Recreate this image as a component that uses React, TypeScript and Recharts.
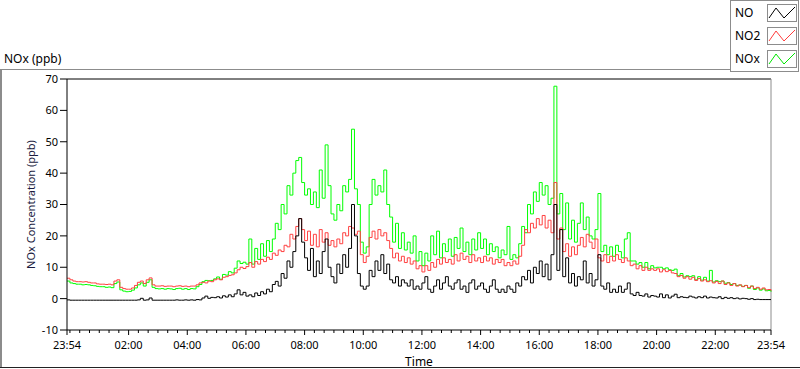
import { LineChart, Line, XAxis, YAxis, ReferenceLine, Label } from "recharts"

// one sample every 6 minutes, starting 23:54 the day before
const SAMPLE_MINUTES = 6

const NO = [
  -0.4, -0.5, -0.5, -0.5, -0.5, -0.5, -0.5, -0.5, -0.5, -0.5,
  -0.5, -0.5, -0.5, -0.5, -0.5, -0.5, -0.5, -0.5, -0.5, -0.5,
  -0.5, -0.5, -0.5, -0.5, -0.4, 0.1, -0.5, -0.4, 0.2, -0.5,
  -0.5, -0.5, -0.5, -0.5, -0.5, -0.5, -0.5, -0.4, -0.5, -0.5,
  -0.4, -0.5, -0.4, -0.5, -0.3, -0.4,
  0.2, 0.8, 0.1, 0.4, 0.3, 0.6, 0.2, 0.9, 0.5, 1.2, 0.6, 1.5, 2.8, 1.2, 2.0,
  0.8, 1.2, 0.6, 1.8, 1.0, 2.2, 1.5, 3.0, 2.2, 4.5,
  5.5, 4.0, 8.0, 6.5, 12.0, 10.0, 15.0, 20.0, 25.5, 18.0,
  13, 9, 16, 7, 12, 8, 15, 19, 10, 7,
  5, 11, 8, 14, 10, 16, 30, 20, 8, 4,
  3, 4, 9, 7, 12, 9, 14, 8, 11, 6,
  5, 7, 4, 6, 5, 4, 6, 3, 4, 3,
  5, 7, 3, 2, 4, 6, 3, 5, 7, 4,
  3, 5, 6, 3, 4, 2, 5, 6, 3, 4,
  5, 3, 2, 4, 6, 3, 2, 3, 2, 4,
  3, 2, 5, 4, 7, 6, 9, 5, 10, 8,
  12, 7, 11, 6, 14, 30, 9, 22, 7, 13,
  5, 8, 4, 7, 6, 12, 5, 8, 4, 6,
  14, 4, 3, 5, 2, 3, 2, 4, 2, 3,
  5, 1.5, 1, 2, 1, 0.8, 1.5, 0.5, 1, 0.8,
  0.5, 1.5, 0.3, 1.2, 0.2, 0.8, 1.4, 0.3, 0.6, 0.4,
  0.3, 0.8, 0.5, 0.2, 0.6, 0.3, 0.8, 0.2, 0.5, 0.3,
  0.2, 0.6, 0, 0.4, 0.1, 0.3, 0, 0.2, -0.1, 0.1,
  0, -0.2, 0, -0.3, -0.2, -0.3, -0.3, -0.3, -0.3, -0.3,
]

const NO2 = [
  6.5, 6.0, 5.6, 5.4, 5.4, 5.3, 5.4, 5.2, 5.0, 5.0,
  4.7, 4.6, 4.6, 4.5, 4.6, 4.4, 5.6, 6.0, 3.6, 3.2,
  3.0, 3.0, 3.4, 4.2, 5.2, 5.6, 4.8, 6.0, 6.6, 4.4,
  4.0, 4.0, 4.1, 3.9, 4.0, 4.0, 3.8, 4.0, 4.1, 3.9,
  4.0, 3.8, 4.0, 4.0, 4.4, 5.0, 5.2, 5.0, 5.6, 5.4,
  6.0, 6.3, 6.0, 6.8, 7.0, 7.4, 7.6, 8.2, 9.2, 10.0,
  9.6,
  10.2, 11.5, 10.0, 11.8, 11.0, 12.5, 11.8, 13.2, 12.5, 14.5,
  13.8, 15.5, 15.0, 17.0, 16.5, 20.5, 19.0, 23.0, 25.5, 22.0,
  18.5, 21.5, 17.0, 20.5, 16.5, 22.0, 18.0, 21.0, 17.0, 18.5,
  16.5, 19.0, 17.5, 21.0, 20.0, 23.0, 22.5, 20.5, 21.5, 14.0,
  11.5, 13.5, 19.5, 21.5, 19.0, 22.0, 20.0, 21.0, 18.5, 16.0,
  13.0, 14.5, 12.0, 13.5, 11.5, 13.0, 11.0, 12.0, 9.5, 10.5,
  8.5, 10.5, 9.0, 11.5, 10.0, 12.5, 11.0, 13.0, 11.5, 12.5,
  11.0, 14.0, 12.0, 14.5, 12.5, 13.5, 11.5, 14.0, 12.0, 13.0,
  11.5, 13.5, 12.0, 13.0, 11.0, 12.5, 11.5, 12.5, 10.5, 11.5,
  10.5, 12.0, 11.0, 13.5, 17.0, 22.0, 21.0, 24.0, 22.5, 25.5,
  23.5, 26.5, 22.5, 25.0, 21.0, 37.0, 19.0, 22.5, 15.0, 17.5,
  13.5, 16.5, 14.0, 17.0, 19.5, 16.5, 20.5, 18.0, 16.0, 19.0,
  13.0, 12.0, 14.0, 11.5, 13.5, 12.0, 14.0, 12.5, 11.5, 13.0,
  12.0, 10.5, 11.0, 9.5, 10.5, 9.0, 10.0, 9.0, 9.5, 9.0,
  9.5, 8.5, 9.2, 8.6, 9.0, 8.2, 8.0, 7.0, 7.4, 6.5,
  7.0, 6.2, 6.8, 5.8, 6.4, 5.6, 6.0, 5.4, 5.7, 5.0,
  5.5, 4.8, 5.6, 4.5, 5.0, 4.2, 4.8, 4.0, 4.4, 3.8,
  4.2, 3.5, 4.0, 3.2, 3.6, 3.0, 3.4, 2.8, 2.9, 2.5,
]

const NOX = [
  5.6, 5.0, 4.8, 4.6, 4.6, 4.4, 4.5, 4.4, 4.2, 4.1,
  3.9, 3.8, 3.8, 3.6, 3.7, 3.5, 4.8, 5.3, 2.8, 2.4,
  2.2, 2.3, 2.7, 3.4, 4.4, 5.0, 4.0, 5.2, 6.0, 3.6,
  3.2, 3.1, 3.2, 3.0, 3.2, 3.1, 2.9, 3.2, 3.3, 3.0,
  3.2, 2.9, 3.2, 3.1, 3.8, 4.5,
  5.4, 5.8, 5.7, 5.8, 6.3, 6.9, 6.2, 7.7, 7.5, 8.6, 8.2, 9.7, 12.0, 11.2, 11.6,
  11.0, 19.0, 11.0, 16.0, 12.5, 17.5, 13.5, 18.5, 15.0, 19.0,
  24.0, 22.0, 30.0, 27.0, 36.0, 33.0, 40.0, 44.0, 45.0, 37.0,
  33.0, 35.0, 30.0, 34.0, 29.0, 41.0, 32.0, 49.0, 36.0, 27.0,
  25.0, 30.0, 28.0, 36.0, 34.0, 38.0, 54.0, 35.0, 30.0, 18.0,
  14.5, 16.5, 30.0, 38.0, 33.0, 36.0, 34.0, 41.0, 30.0, 26.0,
  18.0, 24.0, 16.0, 21.0, 15.5, 18.0, 14.5, 20.0, 12.0, 15.0,
  10.5, 14.5, 12.0, 20.0, 14.0, 21.5, 13.0, 17.5, 15.0, 19.0,
  13.5, 19.5, 16.0, 22.5, 15.0, 18.0, 14.0, 19.0, 15.5, 21.0,
  16.0, 19.0, 14.0, 17.5, 15.0, 16.5, 13.0, 15.5, 14.0, 23.0,
  12.5, 14.0, 13.0, 17.5, 23.0, 21.0, 30.0, 27.0, 34.0, 31.0,
  37.0, 33.0, 36.0, 30.0, 32.0, 67.7, 27.0, 33.5, 22.0, 30.5,
  19.0, 25.0, 18.0, 24.0, 30.5, 22.0, 26.0, 20.0, 19.0, 22.0,
  33.5, 15.0, 17.0, 14.0, 16.5, 13.5, 17.0, 15.0, 13.0, 19.0,
  21.0, 12.0, 12.0, 11.0, 11.5, 10.0, 11.5, 9.5, 10.5, 9.8,
  10.0, 10.0, 9.5, 9.8, 9.2, 9.0, 9.4, 7.3, 8.0, 6.9,
  7.3, 7.0, 7.3, 6.0, 7.0, 5.9, 6.8, 5.6, 9.0, 5.3,
  5.7, 5.4, 5.6, 4.9, 5.1, 4.5, 4.8, 4.2, 4.3, 3.9,
  4.2, 3.3, 4.0, 2.9, 3.4, 2.7, 3.1, 2.5, 2.6, 2.2,
]

// minutes after 23:54
const majorTicks = [0, 126, 246, 366, 486, 606, 726, 846, 966, 1086, 1206, 1326, 1440]
const tickLabels = ["23:54", "02:00", "04:00", "06:00", "08:00", "10:00", "12:00", "14:00", "16:00", "18:00", "20:00", "22:00", "23:54"]
const yTicks = [-10, 0, 10, 20, 30, 40, 50, 60, 70]

const minorTicks: number[] = []
for (let t = 6; t < 1440; t += 20) {
  if (!majorTicks.includes(t)) minorTicks.push(t)
}
const allTicks = [...majorTicks, ...minorTicks].sort((a, b) => a - b)

const data = NO.map((v, i) => ({ t: i * SAMPLE_MINUTES, NO: v, NO2: NO2[i], NOx: NOX[i] }))

const legendItems = [
  { name: "NO", color: "#000000" },
  { name: "NO2", color: "#ff3c3c" },
  { name: "NOx", color: "#00e600" },
]

function TimeTick(props: any) {
  const { x, y, payload } = props
  const idx = majorTicks.indexOf(payload.value)
  const major = idx >= 0
  return (
    <g>
      <line x1={x} y1={y} x2={x} y2={y + (major ? 5 : 3)} stroke="#000" />
      {major && (
        <text x={x} y={y + 19} textAnchor="middle" fontSize={11} fill="#000">
          {tickLabels[idx]}
        </text>
      )}
    </g>
  )
}

export default function App() {
  return (
    <div style={{ position: "relative", width: 800, height: 369, fontFamily: "'Noto Sans', sans-serif", background: "#fff" }}>
      <style>{`body{margin:0}`}</style>
      <svg width={800} height={369} style={{ position: "absolute", left: 0, top: 0 }}>
        <line x1={0} y1={69.5} x2={730} y2={69.5} stroke="#8c8c8c" />
        <line x1={1} y1={69} x2={1} y2={368} stroke="#8c8c8c" strokeWidth={2} />
        <line x1={0} y1={367.5} x2={800} y2={367.5} stroke="#222" />
        <rect x={730.5} y={0.5} width={68} height={71} fill="#fff" stroke="#8c8c8c" />
        {legendItems.map((item, i) => (
          <g key={item.name} transform={`translate(0, ${i * 23})`}>
            <text x={735} y={17} fontSize={12} fill="#000">{item.name}</text>
            <rect x={767.5} y={4.5} width={29} height={17} fill="#fff" stroke="#8c8c8c" />
            <polyline points="769,18 776,8 784,18 795,7" fill="none" stroke={item.color} />
          </g>
        ))}
        <text x={4} y={63} fontSize={12} fill="#000">NOx (ppb)</text>
      </svg>
      <div style={{ position: "absolute", left: 0, top: 0 }}>
        <LineChart width={800} height={369} data={data} margin={{ top: 79, right: 29, bottom: 0, left: 0 }}>
          <XAxis
            dataKey="t"
            type="number"
            domain={[0, 1440]}
            ticks={allTicks}
            interval={0}
            tickSize={0}
            tickMargin={0}
            tickLine={false}
            tick={<TimeTick />}
            height={39}
            axisLine={{ stroke: "#000" }}
          >
            <Label value="Time" position="insideBottom" offset={3} fontSize={12} fill="#000" />
          </XAxis>
          <YAxis
            type="number"
            domain={[-10, 70]}
            ticks={yTicks}
            interval={0}
            width={67}
            tickSize={7}
            tickMargin={2}
            tickLine={{ stroke: "#000" }}
            axisLine={{ stroke: "#000" }}
            tick={{ fontSize: 11, fill: "#000" }}
          >
            <Label
              value="NOx Concentration (ppb)"
              angle={-90}
              position="insideLeft"
              offset={31}
              fontSize={11}
              fill="#1a1a40"
              style={{ textAnchor: "middle" }}
            />
          </YAxis>
          <ReferenceLine y={70} stroke="#000" />
          <ReferenceLine x={1440} stroke="#8c8c8c" />
          <Line type="stepAfter" dataKey="NOx" stroke="#00ff00" strokeWidth={1} dot={false} isAnimationActive={false} />
          <Line type="stepAfter" dataKey="NO2" stroke="#ff4040" strokeWidth={1} dot={false} isAnimationActive={false} />
          <Line type="stepAfter" dataKey="NO" stroke="#000000" strokeWidth={1} dot={false} isAnimationActive={false} />
        </LineChart>
      </div>
    </div>
  )
}
